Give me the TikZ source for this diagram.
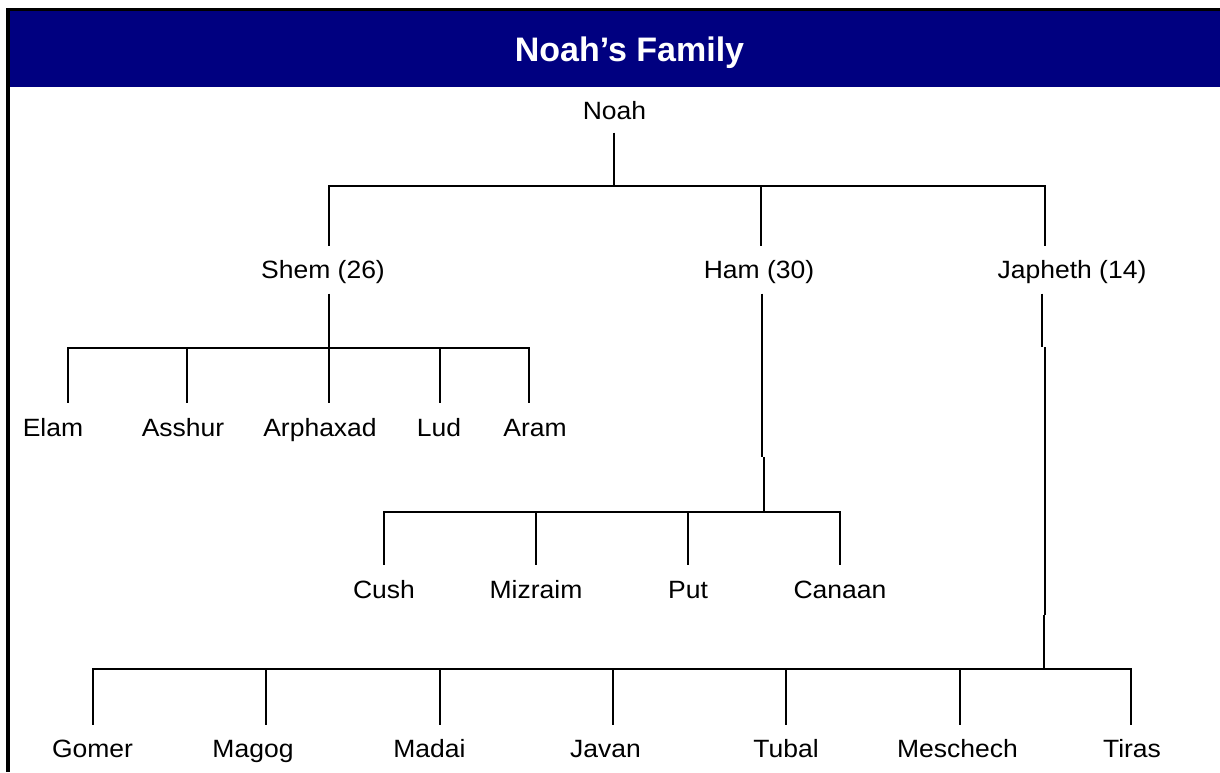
\documentclass[tikz,border=0pt]{standalone}
\usepackage{fontspec}
\setmainfont{Liberation Sans}
\newfontfamily\labelfont[FakeStretch=1.06]{Liberation Sans}
\definecolor{titlenavy}{HTML}{000080}

\begin{document}
\begin{tikzpicture}[x=1pt,y=-1pt,
  person/.style={anchor=base, inner sep=0pt, text height=18pt, text depth=5pt,
    font=\labelfont\fontsize{25}{30}\selectfont},
  branch/.style={line width=2pt},
  bar/.style={line width=2pt, line cap=rect}]
\useasboundingbox (0,0) rectangle (1220,772);
% frame and title
\fill[titlenavy] (10,11) rectangle (1220,87);
\fill[black] (6,7.5) rectangle (1220,11);
\fill[black] (6,7.5) rectangle (10,772);
\node[anchor=base, inner sep=0pt, text=white, font=\bfseries\fontsize{34}{40}\selectfont] (title) at (629.5,61.7) {Noah’s Family};

% Noah and his sons
\node[person] (noah) at (614.5,119.3) {Noah};
\node[person] (shem) at (323,278.3) {Shem (26)};
\node[person] (ham) at (759,278.3) {Ham (30)};
\node[person] (japheth) at (1072,278.3) {Japheth (14)};
\coordinate (nbar-l) at (329,186);
\coordinate (nbar-m) at (761,186);
\coordinate (nbar-r) at (1045,186);
\draw[branch, shorten <=8pt] (noah.south -| 614,0) -- (614,186);
\draw[bar] (nbar-l) -- (nbar-r);
\draw[branch, shorten >=14.5pt] (nbar-l) -- (nbar-l |- shem.north);
\draw[branch, shorten >=14.5pt] (nbar-m) -- (nbar-m |- ham.north);
\draw[branch, shorten >=14.5pt] (nbar-r) -- (nbar-r |- japheth.north);

% Shem
\coordinate (sbar) at (329,348);
\draw[branch, shorten <=10pt] (shem.south -| sbar) -- (sbar);
\foreach \x/\name/\tx/\txt in {68/elam/53/Elam, 187/asshur/183/Asshur,
    329/arphaxad/320/Arphaxad, 440/lud/439/Lud, 529/aram/535/Aram}{
  \node[person] (\name) at (\tx,436) {\txt};
  \coordinate (\name-top) at (\x,348);
  \draw[branch, shorten >=14.5pt] (\name-top) -- (\name-top |- \name.north);
}
\draw[bar] (elam-top) -- (aram-top);

% Ham
\coordinate (hjog-a) at (762,457);
\coordinate (hjog-b) at (764,457);
\coordinate (hbar) at (764,512);
\draw[branch, shorten <=10pt] (ham.south -| hjog-a) -- (hjog-a);
\draw[branch] (hjog-b) -- (hbar);
\foreach \x/\name/\txt in {384/cush/Cush, 536/mizraim/Mizraim,
    688/put/Put, 840/canaan/Canaan}{
  \node[person] (\name) at (\x,598) {\txt};
  \coordinate (\name-top) at (\x,512);
  \draw[branch, shorten >=14.5pt] (\name-top) -- (\name-top |- \name.north);
}
\draw[bar] (cush-top) -- (canaan-top);

% Japheth
\coordinate (jjog-a) at (1042,347);
\coordinate (jjog-b) at (1045,347);
\coordinate (jjog-c) at (1045,615);
\coordinate (jjog-d) at (1044,615);
\coordinate (jbar) at (1044,669);
\draw[branch, shorten <=10pt] (japheth.south -| jjog-a) -- (jjog-a);
\draw[branch] (jjog-b) -- (jjog-c);
\draw[branch] (jjog-d) -- (jbar);
\foreach \x/\name/\tx/\txt in {93/gomer/92.5/Gomer, 266/magog/253/Magog,
    440/madai/429.5/Madai, 613/javan/605.5/Javan, 786/tubal/786/Tubal,
    960/meschech/957.5/Meschech, 1131/tiras/1132/Tiras}{
  \node[person] (\name) at (\tx,757.7) {\txt};
  \coordinate (\name-top) at (\x,669);
  \draw[branch, shorten >=14.5pt] (\name-top) -- (\name-top |- \name.north);
}
\draw[bar] (gomer-top) -- (tiras-top);
\end{tikzpicture}
\end{document}
